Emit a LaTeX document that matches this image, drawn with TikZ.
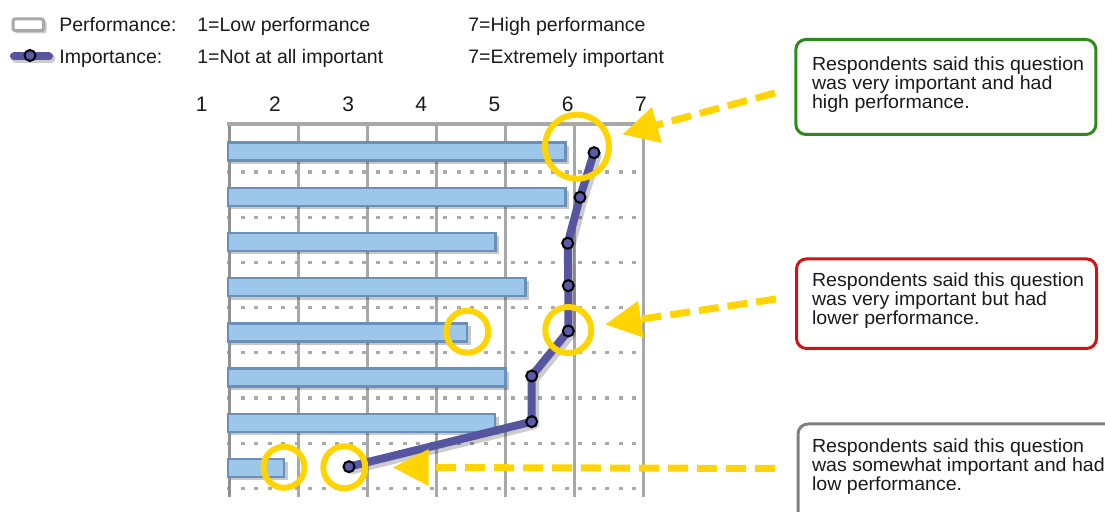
\documentclass[tikz,border=0pt]{standalone}
\usepackage{fontspec}
\setmainfont{Liberation Sans}
\newfontfamily\notefont[FakeStretch=1.03]{Liberation Sans}
\usetikzlibrary{arrows.meta}

\definecolor{ink}{HTML}{1A1A1A}
\definecolor{gridc}{HTML}{A8A8A8}
\definecolor{gridd}{HTML}{909090}
\definecolor{dotc}{HTML}{AAAAAA}
\definecolor{barfill}{HTML}{9DC7EA}
\definecolor{barline}{HTML}{6A90BA}
\definecolor{impline}{HTML}{5555A0}
\definecolor{impdot}{HTML}{5B5BAA}
\definecolor{ringc}{HTML}{FFD400}
\definecolor{goodc}{HTML}{2F8A19}
\definecolor{badc}{HTML}{CC1414}
\definecolor{midc}{HTML}{808080}

\begin{document}
\begin{tikzpicture}[x=0.5pt,y=-0.5pt,
  gridline/.style={draw=gridc,line width=1.5pt},
  dotrow/.style={draw=dotc,line width=1.6pt,dash pattern=on 2pt off 4.75pt},
  bar/.style={fill=barfill,draw=barline,line width=1.25pt},
  barshadow/.style={fill=black,opacity=0.22},
  impath/.style={draw=impline,line width=4pt,line join=round,line cap=round},
  impshadow/.style={draw=black,opacity=0.2,line width=4.5pt,line join=round,line cap=round},
  impmark/.style={circle,fill=impdot,draw=black,line width=1pt,inner sep=0pt,minimum size=5.5pt},
  ring/.style={circle,draw=ringc,line width=3pt,inner sep=0pt},
  callout/.style={-{Triangle[length=18pt,width=17.5pt]},draw=ringc,fill=ringc,
    line width=3.5pt,dash pattern=on 10pt off 4.5pt},
  notebox/.style={rectangle,rounded corners=5pt,line width=1.5pt,fill=white,inner sep=0pt},
  boxtxt/.style={inner sep=0pt,align=left,text=ink,
    font=\notefont\fontsize{9.5pt}{9.5pt}\selectfont},
  legtxt/.style={inner sep=0pt,text=ink,font=\fontsize{9.75pt}{11pt}\selectfont},
  axtxt/.style={inner sep=0pt,text=ink,font=\fontsize{10.5pt}{12pt}\selectfont}
]
\useasboundingbox (0,0) rectangle (1105,512);

% ---- legend ----
\fill[black,opacity=0.2,rounded corners=1pt] (15,21) rectangle (46.5,33.5);
\draw[draw=gridc,fill=white,line width=1.5pt,rounded corners=1pt] (13,19) rectangle (43.5,30.5);
\draw[black,opacity=0.2,line width=4.5pt,line cap=round] (16,58.5) -- (51,58.5);
\draw[impath] (14,56.5) -- (49,56.5);
\node[impmark] (legmark) at (30,55.5) {};
\node[legtxt,anchor=base west] (perf) at (59,31.7) {Performance:};
\node[legtxt,anchor=base west] (perflo) at (197,31.7) {1=Low performance};
\node[legtxt,anchor=base west] (perfhi) at (468,31.7) {7=High performance};
\node[legtxt,anchor=base west] (imp) at (59,64) {Importance:};
\node[legtxt,anchor=base west] (implo) at (197,64) {1=Not at all important};
\node[legtxt,anchor=base west] (imphi) at (468,64) {7=Extremely important};

% ---- scale labels ----
\foreach \n [count=\i from 0] in {1,...,7}
  \node[axtxt,anchor=base] (ax\n) at ({201.7+73.2*\i},111.7) {\n};

% ---- grid ----
\foreach \k in {0,...,7}
  \draw[dotrow] (227,{172+45.2*\k}) -- (641,{172+45.2*\k});
\foreach \k in {1,...,6}
  \draw[gridline] ({229.3+69.1*\k},124) -- ({229.3+69.1*\k},497);
\draw[gridline,draw=gridd,line width=1.75pt] (229.3,124) -- (229.3,497);
\draw[gridline,line width=1.75pt] (227,124) -- (645,124);

% ---- performance bars ----
\foreach \r [count=\i from 0] in {565.5,565.5,495.5,525.5,467,505.5,495,284} {
  \pgfmathsetmacro\yc{151.6+45.2*\i}
  \fill[barshadow] (231,{\yc-6}) rectangle ({\r+3.5},{\yc+12.5});
  \draw[bar] (228,{\yc-9}) rectangle (\r,{\yc+9});
}

% ---- importance line ----
\coordinate (i1) at (594,152.7);
\coordinate (i2) at (580,197.3);
\coordinate (i3) at (567.7,243.3);
\coordinate (i4) at (568.3,285.7);
\coordinate (i5) at (568.3,331);
\coordinate (i6) at (531.7,376);
\coordinate (i7) at (531.7,421.7);
\coordinate (i8) at (349,466.7);
\draw[impshadow,transform canvas={shift={(1.5pt,-1.5pt)}}]
  (i1) -- (i2) -- (i3) -- (i4) -- (i5) -- (i6) -- (i7) -- (i8);
\draw[impath] (i1) -- (i2) -- (i3) -- (i4) -- (i5) -- (i6) -- (i7) -- (i8);
\foreach \j in {1,...,8}
  \node[impmark] (m\j) at (i\j) {};

% ---- highlight rings ----
\node[ring,minimum size=32pt] (hiring) at (577,146.7) {};
\node[ring,minimum size=21pt] (lobar) at (467.3,331.7) {};
\node[ring,minimum size=23pt] (loring) at (568.3,330) {};
\node[ring,minimum size=20.5pt] (smallbar) at (284,467.3) {};
\node[ring,minimum size=21pt] (someimp) at (344.3,467.3) {};

% ---- notes (text anchored on the baseline of its last line) ----
\node[notebox,draw=goodc,minimum width=150pt,minimum height=47.5pt] (goodnote) at (945.9,87) {};
\node[boxtxt,anchor=base west] (goodtxt) at (811.7,108.3)
  {Respondents said this question\\was very important and had\\high performance.};
\node[notebox,draw=badc,minimum width=150pt,minimum height=44.8pt] (badnote) at (946.5,303.7) {};
\node[boxtxt,anchor=base west] (badtxt) at (811.7,324.7)
  {Respondents said this question\\was very important but had\\lower performance.};
\node[notebox,draw=midc,minimum width=160pt,minimum height=50pt] (midnote) at (958,474) {};
\node[boxtxt,anchor=base west] (midtxt) at (811.7,491)
  {Respondents said this question\\was somewhat important and had\\low performance.};

% ---- callout arrows ----
\coordinate (s1) at (775,93);
\coordinate (s2) at (776,299);
\coordinate (s3) at (775,468.5);
\draw[callout,shorten >=5.9pt] (s1) -- (hiring);
\draw[callout,shorten >=5.6pt] (s2) -- (loring);
\draw[callout,shorten >=12.2pt] (s3) -- (someimp);
\end{tikzpicture}
\end{document}
